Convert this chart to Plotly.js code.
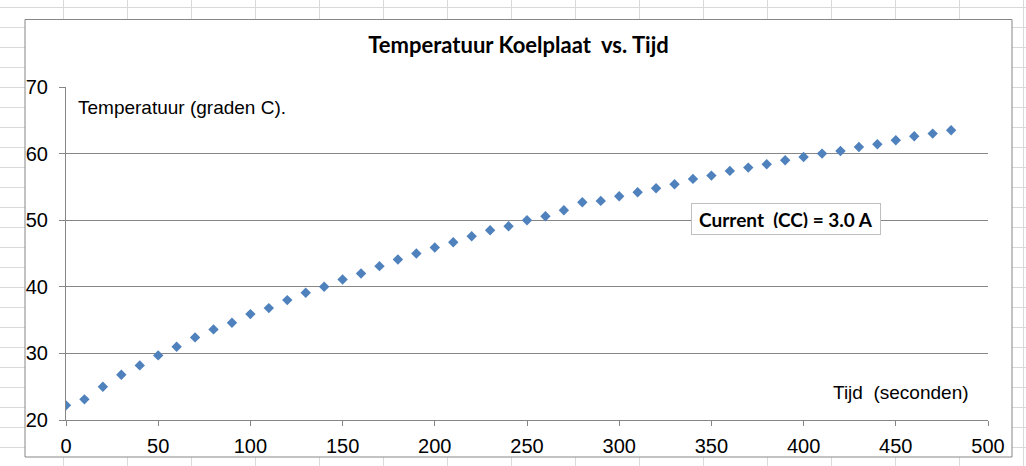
<!DOCTYPE html>
<html>
<head>
<meta charset="utf-8">
<script src="https://cdn.plot.ly/plotly-3.0.1.min.js"></script>
<style>
  html, body { margin: 0; padding: 0; }
  body {
    width: 1026px; height: 466px; overflow: hidden;
    background-color: #ffffff;
    /* excel cell grid behind the chart */
    background-image:
      linear-gradient(to right, #d9d9d9 1px, transparent 1px),
      linear-gradient(to bottom, #d9d9d9 1px, transparent 1px);
    background-size: 64px 20px;
    background-position: 63px 7px;
  }
  #chart { width: 1026px; height: 466px; }
</style>
</head>
<body>
<div id="chart"></div>
<script>
// tijd in seconden
const tijd = [0, 10, 20, 30, 40, 50, 60, 70, 80, 90,
              100, 110, 120, 130, 140, 150, 160, 170, 180, 190,
              200, 210, 220, 230, 240, 250, 260, 270, 280, 290,
              300, 310, 320, 330, 340, 350, 360, 370, 380, 390,
              400, 410, 420, 430, 440, 450, 460, 470, 480];
// temperatuur koelplaat (graden C)
const temperatuur = [22.2, 23.1, 25.0, 26.8, 28.2, 29.7, 31.0, 32.4, 33.6, 34.6,
                     35.9, 36.8, 38.0, 39.1, 40.0, 41.1, 42.0, 43.1, 44.1, 45.0,
                     45.9, 46.7, 47.6, 48.5, 49.1, 50.0, 50.6, 51.5, 52.7, 52.9,
                     53.6, 54.2, 54.8, 55.4, 56.2, 56.7, 57.4, 57.9, 58.4, 59.0,
                     59.5, 60.0, 60.4, 61.0, 61.4, 62.0, 62.6, 63.0, 63.5];

const xTicks = [0, 50, 100, 150, 200, 250, 300, 350, 400, 450, 500];
const yTicks = [20, 30, 40, 50, 60, 70];

const grijs = '#868686';
const arial = 'Liberation Sans, Arial, sans-serif';
const calibri = 'Lato, Carlito, sans-serif';

// plot area in pixels
const L = 66, R = 38, T = 87, B = 46;
const W = 1026 - L - R, H = 466 - T - B;
// pixel -> paper helpers
function px(x) { return (x - L) / W; }
function py(y) { return (466 - B - y) / H; }

let trace =
{
  x: tijd,
  y: temperatuur,
  type: 'scatter',
  mode: 'markers',
  marker: { symbol: 'diamond', size: 8, color: '#4f81bd' },
  hoverinfo: 'x+y'
};

let layout =
{
  width: 1026,
  height: 466,
  margin: { l: L, r: R, t: T, b: B },
  paper_bgcolor: 'rgba(0,0,0,0)',
  plot_bgcolor: 'rgba(0,0,0,0)',
  showlegend: false,
  title:
  {
    text: '<b>Temperatuur Koelplaat\u00a0 vs. Tijd</b>',
    font: { family: calibri, size: 22, color: '#000000' },
    xref: 'container', x: 518.5 / 1026, xanchor: 'center',
    yref: 'container', y: 1 - 45 / 466, yanchor: 'middle'
  },
  xaxis:
  {
    range: [0, 500],
    autorange: false,
    tickvals: xTicks,
    ticktext: xTicks.map(String),
    showgrid: false,
    zeroline: false,
    showline: true,
    linecolor: grijs,
    linewidth: 1,
    ticks: 'outside',
    ticklen: 5,
    tickcolor: grijs,
    ticklabelstandoff: 3,
    tickfont: { family: arial, size: 20, color: '#000000' },
    fixedrange: true
  },
  yaxis:
  {
    range: [20, 70],
    autorange: false,
    tickvals: yTicks,
    ticktext: yTicks.map(String),
    showgrid: true,
    gridcolor: grijs,
    gridwidth: 1,
    zeroline: false,
    showline: true,
    linecolor: grijs,
    linewidth: 1,
    ticks: 'outside',
    ticklen: 6,
    tickcolor: grijs,
    ticklabelstandoff: 7,
    tickfont: { family: arial, size: 20, color: '#000000' },
    fixedrange: true
  },
  shapes:
  [
    // chart frame
    {
      type: 'rect', layer: 'below',
      xref: 'paper', yref: 'paper',
      x0: px(25), x1: px(1012), y0: py(457), y1: py(19.5),
      fillcolor: '#ffffff',
      line: { color: grijs, width: 1 }
    }
  ],
  annotations:
  [
    {
      text: 'Temperatuur (graden C).',
      xref: 'paper', yref: 'paper',
      x: px(76), y: py(107), xanchor: 'left', yanchor: 'middle',
      showarrow: false,
      font: { family: arial, size: 19, color: '#000000' }
    },
    {
      text: 'Tijd\u00a0 (seconden)',
      xref: 'paper', yref: 'paper',
      x: px(831), y: py(392), xanchor: 'left', yanchor: 'middle',
      showarrow: false,
      font: { family: arial, size: 19, color: '#000000' }
    },
    {
      text: '<b>Current\u00a0 (CC) = 3.0 A</b>',
      xref: 'x', yref: 'y',
      x: 390.6, y: 50.2, xanchor: 'center', yanchor: 'middle',
      showarrow: false,
      width: 176, height: 18,
      bgcolor: '#ffffff',
      bordercolor: '#bfbfbf',
      borderwidth: 1,
      borderpad: 6,
      font: { family: calibri, size: 19, color: '#000000' }
    }
  ],
  hovermode: 'closest'
};

Plotly.newPlot('chart', [trace], layout, { displayModeBar: false, staticPlot: true });
</script>
</body>
</html>
